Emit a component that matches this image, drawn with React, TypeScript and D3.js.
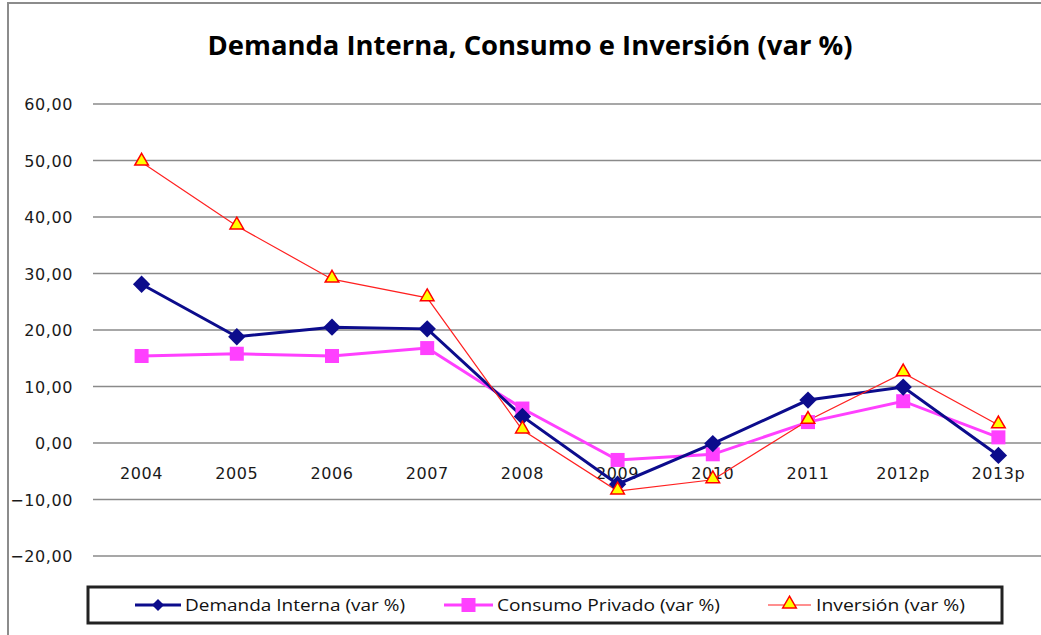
import React, { useEffect, useRef } from 'react';
import * as d3 from 'd3';

const years = ['2004', '2005', '2006', '2007', '2008', '2009', '2010', '2011', '2012p', '2013p'];
const demanda = [28.1, 18.8, 20.5, 20.2, 4.7, -7.3, -0.1, 7.6, 9.9, -2.2];
const consumo = [15.4, 15.8, 15.4, 16.8, 6.1, -3.0, -2.0, 3.7, 7.4, 1.0];
const inversion = [49.7, 38.4, 29.0, 25.7, 2.3, -8.5, -6.5, 4.0, 12.4, 3.2];
const yTicks = [60, 50, 40, 30, 20, 10, 0, -10, -20];
const legendLabels = ['Demanda Interna (var %)', 'Consumo Privado (var %)', 'Inversión (var %)'];

const W = 1041;
const H = 635;

const App = () => {
  const svgRef = useRef<SVGSVGElement>(null);

  useEffect(() => {
    const svg = d3.select(svgRef.current);
    svg.selectAll('*').remove();

    svg.append('rect').attr('width', W).attr('height', H).attr('fill', '#fff');

    // outer chart frame (right side cropped)
    svg.append('path')
      .attr('d', `M8,${H}V3H${W}`)
      .attr('fill', 'none')
      .attr('stroke', '#8c8c8c')
      .attr('stroke-width', 2);

    svg.append('text')
      .attr('x', 530)
      .attr('y', 55)
      .attr('text-anchor', 'middle')
      .attr('font-family', 'Open Sans, sans-serif')
      .attr('font-weight', 'bold')
      .attr('font-size', 27)
      .attr('textLength', 645)
      .attr('lengthAdjust', 'spacingAndGlyphs')
      .attr('fill', '#000')
      .text('Demanda Interna, Consumo e Inversión (var %)');

    const x = d3.scaleBand().domain(years).range([94, 1046]);
    const y = d3.scaleLinear().domain([-20, 60]).range([556, 104]);
    const cx = (d: string) => (x(d) as number) + x.bandwidth() / 2;

    // gridlines
    svg.append('g')
      .selectAll('line')
      .data(yTicks)
      .join('line')
      .attr('x1', 93)
      .attr('x2', W)
      .attr('y1', d => y(d))
      .attr('y2', d => y(d))
      .attr('stroke', '#8a8a8a')
      .attr('stroke-width', 1.5);

    // y labels
    svg.append('g')
      .selectAll('text')
      .data(yTicks)
      .join('text')
      .attr('x', 73)
      .attr('y', d => y(d) + 6)
      .attr('text-anchor', 'end')
      .attr('font-family', 'DejaVu Sans, sans-serif')
      .attr('font-size', 16)
      .attr('letter-spacing', 0.6)
      .attr('fill', '#1a1a1a')
      .text(d => d3.format('.2f')(d).replace('.', ','));

    // x labels
    svg.append('g')
      .selectAll('text')
      .data(years)
      .join('text')
      .attr('x', d => cx(d))
      .attr('y', 479)
      .attr('text-anchor', 'middle')
      .attr('font-family', 'DejaVu Sans, sans-serif')
      .attr('font-size', 16)
      .attr('letter-spacing', 0.6)
      .attr('fill', '#1a1a1a')
      .text(d => d);

    const line = d3.line<number>()
      .x((_, i) => cx(years[i]))
      .y(d => y(d));

    const tri = d3.symbol().type(d3.symbolTriangle).size(80);
    const dia = d3.symbol().type(d3.symbolSquare).size(150);

    // consumo
    svg.append('path').datum(consumo).attr('d', line)
      .attr('fill', 'none').attr('stroke', '#ff40ff').attr('stroke-width', 3);
    // demanda
    svg.append('path').datum(demanda).attr('d', line)
      .attr('fill', 'none').attr('stroke', '#0c0c8c').attr('stroke-width', 3);
    // inversion
    svg.append('path').datum(inversion).attr('d', line)
      .attr('fill', 'none').attr('stroke', '#ff2020').attr('stroke-width', 1.2);

    svg.append('g').selectAll('rect').data(consumo).join('rect')
      .attr('x', (_, i) => cx(years[i]) - 7)
      .attr('y', d => y(d) - 7)
      .attr('width', 14).attr('height', 14)
      .attr('fill', '#ff40ff');

    svg.append('g').selectAll('path').data(demanda).join('path')
      .attr('d', dia)
      .attr('transform', (d, i) => `translate(${cx(years[i])},${y(d)}) rotate(45)`)
      .attr('fill', '#0c0c8c');

    svg.append('g').selectAll('path').data(inversion).join('path')
      .attr('d', tri)
      .attr('transform', (d, i) => `translate(${cx(years[i])},${y(d) - 1})`)
      .attr('fill', '#ffff00')
      .attr('stroke', '#ff0000')
      .attr('stroke-width', 1.5);

    // legend
    const lg = svg.append('g');
    lg.append('rect')
      .attr('x', 88).attr('y', 587)
      .attr('width', 914).attr('height', 36)
      .attr('fill', '#fff')
      .attr('stroke', '#222')
      .attr('stroke-width', 3);

    const items = [
      { x0: 135, x1: 181, tx: 185, tw: 220, color: '#0c0c8c', sw: 3, mark: 'dia' },
      { x0: 444, x1: 493, tx: 497, tw: 223, color: '#ff40ff', sw: 3, mark: 'sq' },
      { x0: 768, x1: 811, tx: 816, tw: 149, color: '#ff2020', sw: 1.2, mark: 'tri' },
    ];
    const ly = 605;
    items.forEach((it, i) => {
      lg.append('line')
        .attr('x1', it.x0).attr('x2', it.x1)
        .attr('y1', ly).attr('y2', ly)
        .attr('stroke', it.color).attr('stroke-width', it.sw);
      const mx = (it.x0 + it.x1) / 2;
      if (it.mark === 'dia') {
        lg.append('path').attr('d', d3.symbol().type(d3.symbolSquare).size(72))
          .attr('transform', `translate(${mx},${ly}) rotate(45)`).attr('fill', it.color);
      } else if (it.mark === 'sq') {
        lg.append('rect').attr('x', mx - 7).attr('y', ly - 7).attr('width', 14).attr('height', 14).attr('fill', it.color);
      } else {
        lg.append('path').attr('d', tri).attr('transform', `translate(${mx},${ly - 1})`)
          .attr('fill', '#ffff00').attr('stroke', '#ff0000').attr('stroke-width', 1.5);
      }
      lg.append('text')
        .attr('x', it.tx).attr('y', ly + 6)
        .attr('font-family', 'Open Sans, sans-serif')
        .attr('font-size', 16)
        .attr('textLength', it.tw)
        .attr('lengthAdjust', 'spacingAndGlyphs')
        .attr('fill', '#111')
        .text(legendLabels[i]);
    });
  }, []);

  return (
    <svg
      ref={svgRef}
      width={W}
      height={H}
      style={{ position: 'absolute', left: 0, top: 0, display: 'block' }}
    />
  );
};

export default App;
